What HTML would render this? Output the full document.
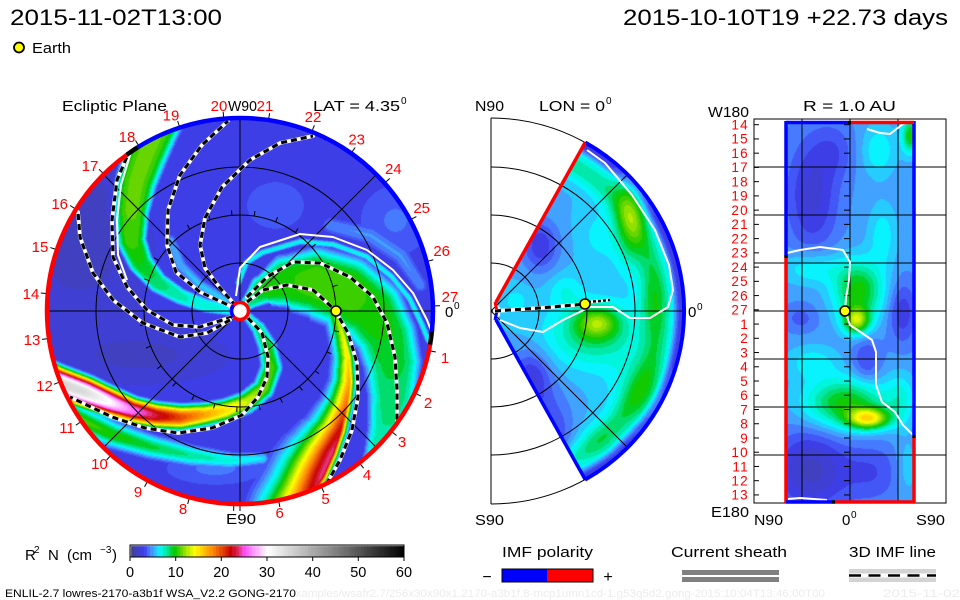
<!DOCTYPE html>
<html><head><meta charset="utf-8">
<style>
html,body{margin:0;padding:0;background:#fff;}
#wrap{position:relative;width:960px;height:600px;overflow:hidden;background:#fff;}
canvas,svg{position:absolute;left:0;top:0;}
text{font-family:"Liberation Sans",sans-serif;}
.imfw{stroke:#fff;stroke-width:3.8;fill:none;stroke-linejoin:round;stroke-linecap:round}
.imfb{stroke:#000;stroke-width:3.1;fill:none;stroke-dasharray:6 4;stroke-linejoin:round}
.cs{stroke:#fff;stroke-width:2;fill:none;stroke-linejoin:round}
.rl{fill:#ff0000;font-size:15px;text-anchor:middle}
.rr{fill:#ff0000;font-size:13.5px;text-anchor:end;letter-spacing:1.3px}
</style></head><body>
<div id="wrap">
<canvas id="cv" width="960" height="600"></canvas>
<svg width="960" height="600" viewBox="0 0 960 600" xmlns="http://www.w3.org/2000/svg">
<defs>
<polyline id="lA" points="236,309 226,304 200,292 176,272 167,245 168,210 180,175 202,145 228,121"/>
<polyline id="lB" points="236,306 220,288 205,268 200,245 205,218 222,187 250,160 280,143 313,136"/>
<polyline id="lC" points="232,317 200,327 173,325 147,310 127,287 113,257 112,220 117,180 129,152"/>
<polyline id="lD" points="230,320 207,333 180,337 143,323 113,300 93,273 80,237 78,212"/>
<polyline id="lE" points="247,297 267,277 293,262 320,263 350,277 373,297 387,323 395,357 397,390 397,421"/>
<polyline id="lF" points="247,302 263,290 287,285 313,290 335,310 348,333 357,363 358,397 352,430 340,460 327,483"/>
<polyline id="lG" points="248,318 262,333 268,357 267,377 258,397 242,415 212,428 178,433 145,428 112,417 70,397"/>
<polyline id="lM" points="495,311 540,308 585,304"/>
</defs>

<!-- header -->
<text x="10" y="25" font-size="22" textLength="212" lengthAdjust="spacingAndGlyphs">2015-11-02T13:00</text>
<text x="623" y="25" font-size="22" textLength="325" lengthAdjust="spacingAndGlyphs">2015-10-10T19 +22.73 days</text>
<circle cx="19" cy="47.5" r="5" fill="#ffff00" stroke="#000" stroke-width="1.8"/>
<text x="32" y="53" font-size="15" textLength="39" lengthAdjust="spacingAndGlyphs">Earth</text>

<!-- ecliptic grid -->
<g stroke="#000" stroke-width="1" fill="none">
<circle cx="240" cy="311" r="48"/>
<circle cx="240" cy="311" r="96"/>
<circle cx="240" cy="311" r="144"/>
<line x1="47" y1="311" x2="433" y2="311"/>
<line x1="240" y1="118" x2="240" y2="512"/>
<line x1="103.5" y1="174.5" x2="376.5" y2="447.5"/>
<line x1="103.5" y1="447.5" x2="376.5" y2="174.5"/>
</g>
<g id="ticks" stroke="#000" stroke-width="1"></g>

<!-- current sheets -->
<polyline class="cs" points="236,296 240,268 260,247 300,234 333,237 367,250 393,270 413,293 427,320 432,333"/>
<polyline class="cs" points="131,152 121,185 117,220 118,255 127,280"/>

<!-- IMF lines -->
<use href="#lA" class="imfw"/><use href="#lA" class="imfb"/>
<use href="#lB" class="imfw"/><use href="#lB" class="imfb"/>
<use href="#lC" class="imfw"/><use href="#lC" class="imfb"/>
<use href="#lD" class="imfw"/><use href="#lD" class="imfb"/>
<use href="#lE" class="imfw"/><use href="#lE" class="imfb"/>
<use href="#lF" class="imfw"/><use href="#lF" class="imfb"/>
<use href="#lG" class="imfw"/><use href="#lG" class="imfb"/>

<!-- ecliptic rim -->
<g fill="none" stroke-width="4.5">
<path d="M431.9 331.2 A193 193 0 0 0 137.7 147.3" stroke="#0000ff"/>
<path d="M137.7 147.3 A193 193 0 0 0 126.6 154.9" stroke="#000"/>
<path d="M126.6 154.9 A193 193 0 1 0 430.1 344.5" stroke="#ff0000"/>
<path d="M430.1 344.5 A193 193 0 0 0 431.9 331.2" stroke="#000"/>
</g>
<circle cx="240" cy="311" r="8.5" fill="#fff" stroke="#ff0000" stroke-width="3.5"/>
<path d="M233.5 305.5 A8.5 8.5 0 0 0 233.5 316.5" stroke="#0000ff" stroke-width="3.5" fill="none"/>
<circle cx="336" cy="311" r="5" fill="#ffff00" stroke="#000" stroke-width="1.6"/>

<!-- ecliptic labels -->
<text x="62" y="111" font-size="15" textLength="105" lengthAdjust="spacingAndGlyphs">Ecliptic Plane</text>
<text class="rl" x="219" y="111">20</text>
<text x="228" y="111" font-size="15" textLength="29" lengthAdjust="spacingAndGlyphs">W90</text>
<text class="rl" x="265" y="111">21</text>
<text x="313" y="111" font-size="15" textLength="87" lengthAdjust="spacingAndGlyphs">LAT = 4.35</text>
<text x="401" y="104" font-size="10">0</text>
<text class="rl" x="445" y="363">1</text>
<text class="rl" x="428" y="408">2</text>
<text class="rl" x="402" y="447">3</text>
<text class="rl" x="367" y="480">4</text>
<text class="rl" x="325.5" y="504">5</text>
<text class="rl" x="279.7" y="518">6</text>
<text class="rl" x="232" y="524">7</text>
<text class="rl" x="183" y="514">8</text>
<text class="rl" x="138" y="497">9</text>
<text class="rl" x="99.5" y="469">10</text>
<text class="rl" x="67" y="433">11</text>
<text class="rl" x="44.5" y="391">12</text>
<text class="rl" x="32" y="345">13</text>
<text class="rl" x="31" y="299">14</text>
<text class="rl" x="40" y="252">15</text>
<text class="rl" x="59.7" y="209">16</text>
<text class="rl" x="90" y="171">17</text>
<text class="rl" x="127" y="142">18</text>
<text class="rl" x="171" y="120.5">19</text>
<text class="rl" x="313" y="122">22</text>
<text class="rl" x="356.7" y="144.5">23</text>
<text class="rl" x="393.3" y="174">24</text>
<text class="rl" x="421.7" y="213">25</text>
<text class="rl" x="441.7" y="256">26</text>
<text class="rl" x="450" y="302">27</text>
<rect x="226" y="511" width="31" height="14" fill="#fff"/>
<text x="226" y="524" font-size="15" textLength="30" lengthAdjust="spacingAndGlyphs">E90</text>
<text x="445" y="317" font-size="15">0</text>
<text x="454" y="309" font-size="10">0</text>

<!-- meridional grid -->
<g stroke="#000" stroke-width="1" fill="none">
<line x1="491" y1="118" x2="491" y2="504"/>
<path d="M491 263 A48 48 0 0 1 491 359"/>
<path d="M491 215 A96 96 0 0 1 491 407"/>
<path d="M491 167 A144 144 0 0 1 491 455"/>
<path d="M491 118 A193 193 0 0 1 491 504"/>
<line x1="491" y1="311" x2="684" y2="311"/>
<line x1="491" y1="311" x2="627.5" y2="174.5"/>
<line x1="491" y1="311" x2="627.5" y2="447.5"/>
</g>
<polyline class="cs" points="587,150 605,163 632,195 655,230 669,265 673,290 668,307 650,318 630,318 613,307 590,307 563,320 543,332 520,328 500,320"/>
<g fill="none" stroke-width="4">
<path d="M585.2 142.5 A193 193 0 0 1 585.2 479.5" stroke="#0000ff"/>
</g>
<line x1="495.9" y1="302.3" x2="585.2" y2="142.5" stroke="#ff0000" stroke-width="3.5"/>
<line x1="495.9" y1="319.7" x2="585.2" y2="479.5" stroke="#0000ff" stroke-width="3.5"/>
<line x1="495" y1="302" x2="497" y2="311" stroke="#ff0000" stroke-width="3"/>
<line x1="497" y1="311" x2="495" y2="320" stroke="#0000ff" stroke-width="3"/>
<use href="#lM" class="imfw"/><use href="#lM" class="imfb"/>
<line x1="588" y1="302" x2="610" y2="300" stroke="#fff" stroke-width="3"/>
<line x1="588" y1="302" x2="610" y2="300" stroke="#000" stroke-width="2.5" stroke-dasharray="3 2"/>
<circle cx="585" cy="304" r="5" fill="#ffff00" stroke="#000" stroke-width="1.6"/>
<text x="475" y="111" font-size="15" textLength="29" lengthAdjust="spacingAndGlyphs">N90</text>
<text x="539" y="111" font-size="15" textLength="66" lengthAdjust="spacingAndGlyphs">LON = 0</text>
<text x="606" y="104" font-size="10">0</text>
<text x="688" y="317" font-size="15">0</text>
<text x="697" y="310" font-size="10">0</text>
<text x="475" y="525" font-size="15" textLength="29" lengthAdjust="spacingAndGlyphs">S90</text>

<!-- right panel -->
<g stroke="#000" stroke-width="1" fill="none">
<rect x="754" y="119" width="192" height="384"/>
<line x1="754" y1="167" x2="946" y2="167"/>
<line x1="754" y1="215" x2="946" y2="215"/>
<line x1="754" y1="263" x2="946" y2="263"/>
<line x1="754" y1="311" x2="946" y2="311"/>
<line x1="754" y1="359" x2="946" y2="359"/>
<line x1="754" y1="407" x2="946" y2="407"/>
<line x1="754" y1="455" x2="946" y2="455"/>
<line x1="802" y1="119" x2="802" y2="503"/>
<line x1="850" y1="119" x2="850" y2="503"/>
<line x1="898" y1="119" x2="898" y2="503"/>
</g>
<polyline class="cs" points="787,253 800,250 820,247 843,250 850,262 849,280 846,298 845,311 850,325 862,333 872,340 876,352 876,385 882,402 895,412 903,425 913,435"/>
<polyline class="cs" points="867,129 880,133 890,134 903,124 910,122"/>
<polyline class="cs" points="788,499 800,498 827,500"/>
<g stroke-width="3.5" fill="none">
<line x1="786" y1="121" x2="786" y2="255" stroke="#0000ff"/>
<line x1="786" y1="255" x2="786" y2="258" stroke="#000"/>
<line x1="786" y1="258" x2="786" y2="503" stroke="#ff0000"/>
<line x1="914" y1="121" x2="914" y2="435" stroke="#0000ff"/>
<line x1="914" y1="435" x2="914" y2="438" stroke="#000"/>
<line x1="914" y1="438" x2="914" y2="503" stroke="#ff0000"/>
<line x1="786" y1="122.5" x2="848" y2="122.5" stroke="#0000ff"/>
<line x1="848" y1="122.5" x2="851" y2="122.5" stroke="#000"/>
<line x1="851" y1="122.5" x2="914" y2="122.5" stroke="#ff0000"/>
<line x1="786" y1="502" x2="832" y2="502" stroke="#0000ff"/>
<line x1="832" y1="502" x2="835" y2="502" stroke="#000"/>
<line x1="835" y1="502" x2="914" y2="502" stroke="#ff0000"/>
</g>
<circle cx="845" cy="311" r="5" fill="#ffff00" stroke="#000" stroke-width="1.6"/>
<text x="708" y="117" font-size="15" textLength="41" lengthAdjust="spacingAndGlyphs">W180</text>
<text x="803" y="111" font-size="15" textLength="93" lengthAdjust="spacingAndGlyphs">R = 1.0 AU</text>
<text x="711" y="517" font-size="15" textLength="38" lengthAdjust="spacingAndGlyphs">E180</text>
<text x="754" y="525" font-size="15" textLength="29" lengthAdjust="spacingAndGlyphs">N90</text>
<text x="842" y="525" font-size="15">0</text>
<text x="851" y="518" font-size="10">0</text>
<text x="916" y="525" font-size="15" textLength="29" lengthAdjust="spacingAndGlyphs">S90</text>
<g>
<text class="rr" x="749" y="129.5">14</text>
<text class="rr" x="749" y="143.7">15</text>
<text class="rr" x="749" y="158">16</text>
<text class="rr" x="749" y="172.2">17</text>
<text class="rr" x="749" y="186.5">18</text>
<text class="rr" x="749" y="200.7">19</text>
<text class="rr" x="749" y="214.9">20</text>
<text class="rr" x="749" y="229.2">21</text>
<text class="rr" x="749" y="243.4">22</text>
<text class="rr" x="749" y="257.7">23</text>
<text class="rr" x="749" y="271.9">24</text>
<text class="rr" x="749" y="286.1">25</text>
<text class="rr" x="749" y="300.4">26</text>
<text class="rr" x="749" y="314.6">27</text>
<text class="rr" x="749" y="328.9">1</text>
<text class="rr" x="749" y="343.1">2</text>
<text class="rr" x="749" y="357.3">3</text>
<text class="rr" x="749" y="371.6">4</text>
<text class="rr" x="749" y="385.8">5</text>
<text class="rr" x="749" y="400.1">6</text>
<text class="rr" x="749" y="414.3">7</text>
<text class="rr" x="749" y="428.5">8</text>
<text class="rr" x="749" y="442.8">9</text>
<text class="rr" x="749" y="457">10</text>
<text class="rr" x="749" y="471.3">11</text>
<text class="rr" x="749" y="485.5">12</text>
<text class="rr" x="749" y="499.7">13</text>
</g>

<!-- colorbar -->
<rect x="130" y="545" width="274" height="12" fill="none" stroke="#000" stroke-width="1"/>
<g stroke="#000" stroke-width="1">
<line x1="130" y1="557" x2="130" y2="561"/><line x1="175.7" y1="557" x2="175.7" y2="561"/>
<line x1="221.3" y1="557" x2="221.3" y2="561"/><line x1="267" y1="557" x2="267" y2="561"/>
<line x1="312.7" y1="557" x2="312.7" y2="561"/><line x1="358.3" y1="557" x2="358.3" y2="561"/>
<line x1="404" y1="557" x2="404" y2="561"/>
</g>
<g font-size="14.5" text-anchor="middle">
<text x="130" y="577">0</text><text x="175.7" y="577">10</text><text x="221.3" y="577">20</text>
<text x="267" y="577">30</text><text x="312.7" y="577">40</text><text x="358.3" y="577">50</text><text x="404" y="577">60</text>
</g>
<text y="560" font-size="15"><tspan x="25">R</tspan><tspan x="34" y="553" font-size="10">2</tspan><tspan x="48" y="560">N</tspan><tspan x="67" y="560">(cm</tspan><tspan x="100" y="553" font-size="10">−3</tspan><tspan x="112" y="560">)</tspan></text>

<!-- footer -->
<text x="289" y="597" font-size="11" fill="#ececec" textLength="536" lengthAdjust="spacingAndGlyphs">examples/wsafr2.7/256x30x90x1.2170-a3b1f.8-mcp1umn1cd-1.g53q5d2.gong-2015:10:04T13:46:00T00</text>
<text x="883" y="597" font-size="11" fill="#ececec" textLength="77" lengthAdjust="spacingAndGlyphs">2015-11-02</text>
<text x="5" y="597" font-size="11" textLength="291" lengthAdjust="spacingAndGlyphs">ENLIL-2.7 lowres-2170-a3b1f WSA_V2.2 GONG-2170</text>

<!-- legends -->
<text x="502" y="557" font-size="15" textLength="91" lengthAdjust="spacingAndGlyphs">IMF polarity</text>
<rect x="502" y="569" width="45" height="13" fill="#0000ff"/>
<rect x="547" y="569" width="46" height="13" fill="#ff0000"/>
<rect x="502" y="569" width="91" height="13" fill="none" stroke="#000" stroke-width="1"/>
<text x="487" y="582" font-size="16" text-anchor="middle">−</text>
<text x="608" y="582" font-size="16" text-anchor="middle">+</text>
<text x="671" y="557" font-size="15" textLength="116" lengthAdjust="spacingAndGlyphs">Current sheath</text>
<rect x="682" y="570" width="97" height="5" fill="#808080"/>
<rect x="682" y="577" width="97" height="5" fill="#808080"/>
<text x="849" y="557" font-size="15" textLength="87" lengthAdjust="spacingAndGlyphs">3D IMF line</text>
<rect x="849" y="569" width="87" height="13" fill="#d3d3d3"/>
<line x1="849" y1="575.5" x2="936" y2="575.5" stroke="#fff" stroke-width="4"/>
<line x1="849" y1="575.5" x2="936" y2="575.5" stroke="#000" stroke-width="2.6" stroke-dasharray="12 7.5"/>
</svg>
</div>
<script>
(function(){
var W=960,H=600;
var cv=document.getElementById('cv');var ctx=cv.getContext('2d');
var img=ctx.createImageData(W,H);var D=img.data;
for(var i=0;i<D.length;i+=4){D[i]=255;D[i+1]=255;D[i+2]=255;D[i+3]=255;}
var stops=[[0,64,64,140],[1.5,64,64,196],[3,62,62,236],[4,72,112,255],[5,64,168,255],[6.5,0,255,255],[8,0,228,150],[9.5,0,200,0],[11,90,210,0],[12.5,180,235,0],[14,255,255,0],[16,255,195,0],[18,255,135,0],[20,230,70,0],[22,200,0,0],[23.5,220,40,90],[25,255,80,255],[27.5,255,170,255],[30,255,255,255],[60,0,0,0]];
function cmap(v){if(v<0)v=0;if(v>60)v=60;for(var i=1;i<stops.length;i++){if(v<=stops[i][0]){var a=stops[i-1],b=stops[i];var t=(v-a[0])/(b[0]-a[0]);return [a[1]+(b[1]-a[1])*t,a[2]+(b[2]-a[2])*t,a[3]+(b[3]-a[3])*t];}}return [0,0,0];}
function put(x,y,v,q){v=Math.round(v/q)*q;var c=cmap(v);var i=(y*W+x)*4;D[i]=c[0];D[i+1]=c[1];D[i+2]=c[2];}
function gb(x,y,cx,cy,sx,sy){var a=(x-cx)/sx,b=(y-cy)/sy;return Math.exp(-0.5*(a*a+b*b));}
function armVal(arm,x,y){
 var P=arm.pts,best=1e12,bi=0,bt=0,bc=0;
 for(var i=0;i<P.length-1;i++){
  var ax=P[i][0],ay=P[i][1],dx=P[i+1][0]-ax,dy=P[i+1][1]-ay,L2=dx*dx+dy*dy;
  var t=((x-ax)*dx+(y-ay)*dy)/L2;if(t<0)t=0;if(t>1)t=1;
  var px=ax+t*dx-x,py=ay+t*dy-y,d2=px*px+py*py;
  if(d2<best){best=d2;bi=i;bt=t;bc=dx*(y-ay)-dy*(x-ax);}
 }
 var a=P[bi],b=P[bi+1];
 var amp=a[2]+(b[2]-a[2])*bt;
 var w=bc>0?a[3]+(b[3]-a[3])*bt:a[4]+(b[4]-a[4])*bt;
 return amp*Math.exp(-Math.pow(Math.sqrt(best)/w,arm.p));
}
var arms=[
{p:4,pts:[[228,309,6.5,7,7],[205,305,7,8,8],[180,296,7.5,9,9],[157,282,8.5,11,11],[140,262,9.5,13,13],[131,240,10.5,15,15],[131,210,11,18,18],[136,180,11,21,21],[145,155,11,22,22],[155,132,11,22,22],[162,118,11,22,22]]},
{p:2,pts:[[225,300,5.5,8,8],[200,285,5.5,8,8],[180,265,5.2,9,9],[170,240,5,8,8]]},
{p:4,pts:[[248,302,8,8,8],[262,290,9.5,16,16],[285,282,10,28,28],[315,282,10.5,36,36],[345,292,10.5,38,38],[370,310,10,36,36],[385,335,9.5,32,32],[392,362,9,30,30],[392,395,8.5,26,26],[386,428,8,20,20],[378,455,7.5,16,16],[366,480,7,12,12]]},
{p:2,pts:[[238,282,6.8,4,4],[246,262,6.8,4,4],[262,252,6.8,4,4],[300,241,6.8,4,4],[333,244,6.8,4,4],[366,256,6.8,4,4],[391,276,6.8,4,4],[409,298,6.8,4,4],[421,323,6.8,4,4],[428,340,6.8,4,4]]},
{p:2,pts:[[330,225,4.5,12,12],[370,235,4.6,14,14],[400,255,4.6,14,14],[420,285,4.5,10,10]]},
{p:1.5,pts:[[336,314,12,12,6],[343,335,13.5,13,6],[348,357,15,14,6],[349,382,17,16,6],[346,405,19,20,6],[340,430,22,26,6],[332,452,24,32,6],[322,475,24,36,6],[310,495,22,36,6],[298,512,20,36,6]]},
{p:2.5,pts:[[247,316,7,6,6],[258,328,8.5,8,8],[267,346,9.5,10,10],[271,367,10.5,11,11],[263,388,11.5,11,11],[246,402,13,11,11],[225,410,15,11,11],[205,414,17,11,11],[180,417,20,12,12],[155,415,23,12,12],[132,410,26,12,12],[110,402,30,13,13],[85,392,34,14,14],[58,382,35,14,14],[35,372,34,14,14]]},
{p:2,pts:[[45,398,11,14,14],[78,418,10.5,14,14],[112,434,10,14,14],[150,446,9,13,13],[190,455,8,12,12],[230,460,7,10,10],[262,458,6,8,8]]}
];
function eclBase(x,y){
 var b=2.8;
 b-=1.4*gb(x,y,80,255,45,45);
 b-=1.3*gb(x,y,140,355,55,18);
 b-=0.7*gb(x,y,100,180,25,25);
 b+=1.2*gb(x,y,395,220,22,22);
 b+=0.8*gb(x,y,275,205,22,18);
 b+=1.3*gb(x,y,215,468,30,10);
 return b;
}
var x,y,v,k,r,dx,dy;
for(y=115;y<=507;y++){for(x=44;x<=436;x++){
 dx=x-240;dy=y-311;r=Math.sqrt(dx*dx+dy*dy);
 if(r>194||r<7)continue;
 v=eclBase(x,y);
 for(k=0;k<arms.length;k++){var a=armVal(arms[k],x,y);if(a>v)v=a;}
 put(x,y,v,0.7);
}}
// meridional wedge
var mb=[[630,218,11,32,4.5],[597,322,15,11,4.8],[592,335,32,22,3],[540,245,13,18,-2.6],[530,378,14,20,-2.8],[550,435,16,30,-2.2],[565,290,12,12,1.3],[640,390,20,25,2.2],[600,440,15,15,1.0],[600,235,15,20,1.0],[515,300,10,10,1],[650,300,10,25,2.0]];
for(y=138;y<=484;y++){for(x=491;x<=686;x++){
 dx=x-491;dy=311-y;r=Math.sqrt(dx*dx+dy*dy);
 if(r<9||r>193.5)continue;
 var lat=Math.atan2(dy,dx)*180/Math.PI;
 if(Math.abs(lat)>61)continue;
 v=5.2+2.6*Math.exp(-Math.pow((r-168)/14,2));
 for(k=0;k<mb.length;k++){var m=mb[k];v+=m[4]*gb(x,y,m[0],m[1],m[2],m[3]);}
 if(r>180)v-=Math.min(2.8,(r-180)*0.35);
 put(x,y,v,0.7);
}}
// right panel
var rb=[[812,195,18,40,-2.6],[835,150,15,20,-1.2],[878,150,12,18,1.8],[910,135,6,12,5],[882,235,10,22,1.6],[812,268,22,12,2.0],[858,290,17,20,5],[856,320,9,9,7],[902,312,10,22,-2.2],[866,360,10,16,-1.8],[800,318,12,10,-1.2],[812,362,18,12,1.6],[845,403,28,17,5],[868,418,14,7,8.5],[810,470,25,28,-3.3],[872,472,22,22,-1.6],[900,398,10,18,1.8],[906,468,8,20,1.2]];
for(y=122;y<=502;y++){for(x=786;x<=914;x++){
 v=4.8;
 for(k=0;k<rb.length;k++){var m=rb[k];v+=m[4]*gb(x,y,m[0],m[1],m[2],m[3]);}
 put(x,y,v,0.7);
}}
// colorbar
for(y=546;y<=556;y++){for(x=131;x<=403;x++){
 v=(x-130)/274*60;put(x,y,Math.floor(v/0.72)*0.72+0.36,0.01);
}}
ctx.putImageData(img,0,0);
// ticks
var ns="http://www.w3.org/2000/svg";var g=document.getElementById('ticks');
function ln(x1,y1,x2,y2){var l=document.createElementNS(ns,'line');l.setAttribute('x1',x1);l.setAttribute('y1',y1);l.setAttribute('x2',x2);l.setAttribute('y2',y2);g.appendChild(l);}
for(k=1;k<=27;k++){var an=(1.5-13.3333*k)*Math.PI/180,c=Math.cos(an),s=Math.sin(an);
 ln(240+96*c,311-96*s,240+101*c,311-101*s);
 ln(240+195*c,311-195*s,240+200*c,311-200*s);}
for(k=0;k<27;k++){var yy=124.7+k*14.24;ln(754,yy,759,yy);ln(844,yy,850,yy);}
})();
</script>
</body></html>
